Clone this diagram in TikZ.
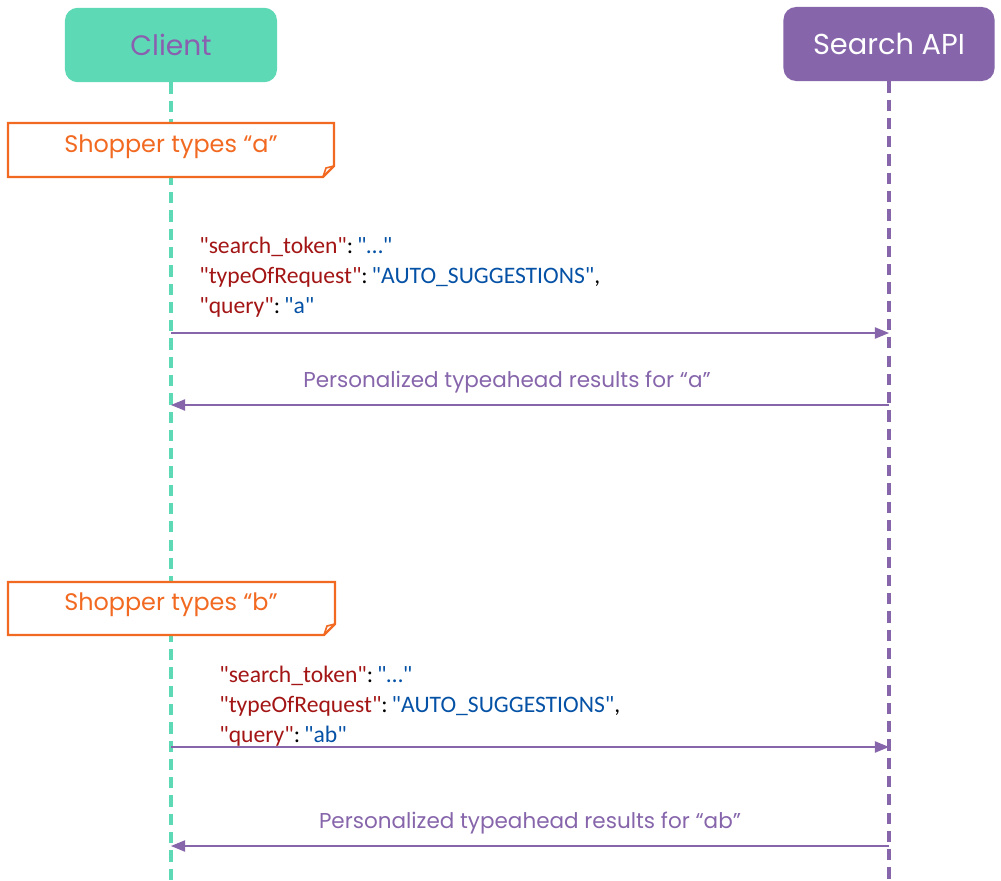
\documentclass[tikz,border=0pt]{standalone}
\usepackage{fontspec}
\setmainfont{Poppins}
\newfontfamily\jsonfont{Carlito}
\usetikzlibrary{arrows.meta,calc,positioning}
\definecolor{mint}{HTML}{5ED9B5}
\definecolor{apipurple}{HTML}{8665AB}
\definecolor{clienttext}{HTML}{8A5FAF}
\definecolor{noteorange}{HTML}{F26A21}
\definecolor{jsonred}{HTML}{A31515}
\definecolor{jsonblue}{HTML}{0451A5}
\tikzset{
    x=0.025cm, y=-0.025cm,
    actor/.style={rectangle, rounded corners=9pt, minimum width=5.3cm, minimum height=1.86cm, font=\fontsize{20}{23}\selectfont},
    lifeline/.style={line width=2.4pt, dash pattern=on 8pt off 5pt},
    msg/.style={apipurple, line width=0.9pt, -{Triangle[length=10pt,width=8pt]}},
    notetext/.style={noteorange, font=\fontsize{17}{20}\selectfont},
    notebox/.style={draw=noteorange, line width=1.6pt, fill=white},
    json/.style={anchor=north west, align=left, inner sep=0pt, font=\jsonfont\fontsize{16.8}{21.3}\selectfont},
    reply/.style={apipurple, font=\fontsize{15.3}{18}\selectfont, above=5pt}
}
\newcommand{\jkey}[1]{\textcolor{jsonred}{"#1"}}
\newcommand{\jval}[1]{\textcolor{jsonblue}{"#1"}}

\begin{document}
\begin{tikzpicture}
    \useasboundingbox (0,0) rectangle (1001,881);

    % participants
    \node[actor, fill=mint, text=clienttext] (client) at (171,45) {Client};
    \node[actor, fill=apipurple, text=white, minimum width=5.275cm, minimum height=1.85cm, font=\fontsize{20.5}{23}\selectfont] (api) at (889,44) {Search API};

    \coordinate (clientend) at (171,881);
    \coordinate (apiend) at (889,881);
    \draw[lifeline, mint] (client.south) -- (clientend);
    \draw[lifeline, apipurple] (api.south) -- (apiend);

    % first keystroke
    \draw[notebox] (8,123) -- (334,123) -- (334,166) -- (323,177) -- (8,177) -- cycle;
    \draw[draw=noteorange, line width=1.2pt] (323,177) -- (326,168) -- (334,166);
    \node[notetext] (notea) at (171,147) {Shopper types “a”};

    \node[json] (reqa) at (199,237) {\jkey{search\_token}:\,\jval{…}\\
        \jkey{typeOfRequest}:\,\jval{AUTO\_SUGGESTIONS},\\
        \jkey{query}:\,\jval{a}};

    \coordinate (ca1) at (171,333);
    \coordinate (aa1) at (889,333);
    \coordinate (ca2) at (171,405);
    \coordinate (aa2) at (889,405);
    \path[msg] (ca1) edge (aa1);
    \path[msg] (aa2) edge node[reply, pos=0.532] {Personalized typeahead results for “a”} (ca2);

    % second keystroke
    \draw[notebox] (8,582) -- (335,582) -- (335,624) -- (324,635) -- (8,635) -- cycle;
    \draw[draw=noteorange, line width=1.2pt] (324,635) -- (327,626) -- (335,624);
    \node[notetext] (noteb) at (171,605) {Shopper types “b”};

    \node[json] (reqb) at (219,666) {\jkey{search\_token}:\,\jval{…}\\
        \jkey{typeOfRequest}:\,\jval{AUTO\_SUGGESTIONS},\\
        \jkey{query}:\,\jval{ab}};

    \coordinate (cb1) at (171,747);
    \coordinate (ab1) at (889,747);
    \coordinate (cb2) at (171,846);
    \coordinate (ab2) at (889,846);
    \path[msg] (cb1) edge (ab1);
    \path[msg] (ab2) edge node[reply] {Personalized typeahead results for “ab”} (cb2);

\end{tikzpicture}
\end{document}
